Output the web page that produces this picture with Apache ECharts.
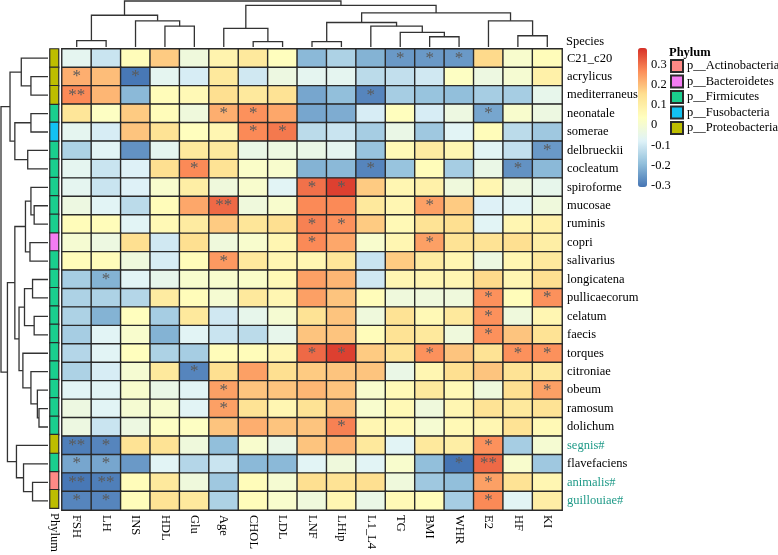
<!DOCTYPE html>
<html><head><meta charset="utf-8">
<script src="https://cdn.jsdelivr.net/npm/echarts@6/dist/echarts.min.js"></script>
<style>html,body{margin:0;padding:0;background:#fff}#c{width:778px;height:555px}</style>
</head><body><div id="c"></div>
<script>
// ---------------- DATA ----------------
const columns = ['FSH','LH','INS','HDL','Glu','Age','CHOL','LDL','LNF','LHip','L1_L4','TG','BMI','WHR','E2','HF','KI'];
const species = ['C21_c20','acrylicus','mediterraneus','neonatale','somerae','delbrueckii','cocleatum','spiroforme','mucosae','ruminis','copri','salivarius','longicatena','pullicaecorum','celatum','faecis','torques','citroniae','obeum','ramosum','dolichum','segnis#','flavefaciens','animalis#','guillouiae#'];
const phyla = ['p__Actinobacteria','p__Bacteroidetes','p__Firmicutes','p__Fusobacteria','p__Proteobacteria'];
const speciesPhylum = ['p__Proteobacteria','p__Proteobacteria','p__Proteobacteria','p__Firmicutes','p__Fusobacteria','p__Firmicutes','p__Firmicutes','p__Firmicutes','p__Firmicutes','p__Firmicutes','p__Bacteroidetes','p__Firmicutes','p__Firmicutes','p__Firmicutes','p__Firmicutes','p__Firmicutes','p__Firmicutes','p__Firmicutes','p__Firmicutes','p__Firmicutes','p__Firmicutes','p__Proteobacteria','p__Firmicutes','p__Actinobacteria','p__Proteobacteria'];
// correlation values, one row per species, columns in the order above
const corrValues = [
 [-0.06,-0.11,0.05,0.18,-0.02,0.08,0.12,0.04,-0.20,-0.15,-0.21,-0.25,-0.25,-0.25,0.16,0.01,0.05],
 [0.22,0.20,-0.30,-0.06,-0.09,0.12,-0.10,-0.03,-0.06,-0.06,-0.13,-0.12,-0.10,0.03,-0.03,0.00,0.09],
 [0.27,0.21,-0.20,0.05,0.06,0.15,0.12,0.14,-0.23,-0.19,-0.28,-0.16,-0.18,-0.19,-0.16,-0.16,-0.05],
 [0.13,0.03,0.18,0.05,-0.02,0.22,0.26,0.23,-0.23,-0.22,-0.09,0.04,-0.09,-0.03,-0.23,0.01,-0.03],
 [-0.06,-0.09,0.19,0.14,0.04,0.07,0.27,0.29,-0.13,-0.11,-0.16,-0.04,-0.17,-0.07,0.05,-0.13,-0.17],
 [-0.15,-0.07,-0.26,-0.06,0.12,0.12,-0.04,-0.03,-0.04,-0.06,-0.18,0.06,0.11,0.07,-0.07,-0.12,-0.25],
 [-0.06,-0.11,-0.08,0.15,0.27,0.14,0.02,0.01,-0.21,-0.20,-0.28,-0.18,0.05,-0.16,-0.04,-0.26,-0.20],
 [-0.06,-0.11,-0.08,0.01,0.10,-0.02,0.01,-0.07,0.30,0.36,0.18,0.07,0.09,-0.02,0.07,-0.03,-0.05],
 [-0.03,-0.07,-0.13,0.05,0.23,0.31,-0.02,0.01,0.27,0.27,0.12,0.07,0.24,0.18,-0.08,-0.07,-0.02],
 [0.05,0.05,-0.07,0.06,0.11,0.18,0.13,0.15,0.28,0.26,0.18,0.06,0.14,0.15,-0.07,0.07,0.09],
 [0.00,-0.03,0.15,-0.10,0.15,-0.02,0.01,0.07,0.27,0.23,0.01,0.07,0.24,0.14,0.14,0.15,0.10],
 [0.05,0.05,-0.02,-0.09,0.05,0.25,0.12,0.07,0.07,0.13,-0.11,0.18,0.11,0.07,-0.03,0.07,0.12],
 [-0.16,-0.21,-0.07,-0.05,0.01,0.01,0.02,0.06,0.24,0.21,-0.10,0.07,0.07,0.07,0.16,0.07,0.15],
 [-0.15,-0.15,-0.14,0.11,0.05,0.00,0.12,0.07,0.24,0.19,0.05,-0.02,-0.02,-0.02,0.26,0.05,0.26],
 [-0.15,-0.21,0.04,-0.16,0.12,-0.10,-0.05,0.00,0.14,0.19,-0.02,0.14,0.06,0.12,0.26,-0.02,0.07],
 [-0.16,-0.07,0.01,-0.21,-0.07,-0.11,-0.13,-0.05,0.19,0.19,0.05,0.14,0.12,-0.02,0.26,0.19,0.14],
 [-0.14,-0.07,0.04,-0.15,-0.16,0.05,0.05,0.07,0.31,0.36,0.18,0.14,0.26,0.19,0.14,0.26,0.26],
 [-0.15,-0.09,0.00,0.12,-0.28,0.15,0.24,0.15,0.18,0.19,0.19,-0.04,0.07,0.15,0.19,0.14,0.12],
 [-0.07,-0.07,0.01,-0.04,-0.07,0.24,0.19,0.19,0.21,0.19,0.01,0.06,0.12,0.06,-0.02,0.15,0.24],
 [-0.03,-0.07,0.00,0.01,-0.07,0.24,0.14,0.07,0.14,0.19,0.01,0.06,-0.02,0.07,0.14,0.12,0.14],
 [-0.03,-0.11,-0.03,0.03,0.03,0.19,0.22,0.19,0.19,0.28,0.07,0.06,0.00,0.06,0.07,0.14,0.06],
 [-0.29,-0.28,0.14,0.14,-0.02,-0.19,0.01,-0.04,0.19,0.21,0.12,-0.07,0.12,0.10,0.26,-0.16,0.00],
 [-0.23,-0.23,-0.25,-0.07,-0.14,-0.11,-0.20,-0.20,-0.07,-0.02,-0.07,0.01,-0.19,-0.31,0.31,0.01,-0.17],
 [-0.30,-0.29,0.05,0.12,-0.02,-0.17,0.05,0.00,0.15,0.14,0.15,-0.02,-0.17,-0.19,0.24,0.14,0.07],
 [-0.28,-0.28,0.05,0.14,0.12,-0.15,0.05,0.01,-0.02,0.07,-0.04,0.06,0.05,-0.16,0.27,-0.07,0.10]
];
// significance level: 0 none, 1 "*", 2 "**"
const sigLevels = [
 [0,0,0,0,0,0,0,0,0,0,0,1,1,1,0,0,0],
 [1,0,1,0,0,0,0,0,0,0,0,0,0,0,0,0,0],
 [2,0,0,0,0,0,0,0,0,0,1,0,0,0,0,0,0],
 [0,0,0,0,0,1,1,0,0,0,0,0,0,0,1,0,0],
 [0,0,0,0,0,0,1,1,0,0,0,0,0,0,0,0,0],
 [0,0,0,0,0,0,0,0,0,0,0,0,0,0,0,0,1],
 [0,0,0,0,1,0,0,0,0,0,1,0,0,0,0,1,0],
 [0,0,0,0,0,0,0,0,1,1,0,0,0,0,0,0,0],
 [0,0,0,0,0,2,0,0,0,0,0,0,1,0,0,0,0],
 [0,0,0,0,0,0,0,0,1,1,0,0,0,0,0,0,0],
 [0,0,0,0,0,0,0,0,1,0,0,0,1,0,0,0,0],
 [0,0,0,0,0,1,0,0,0,0,0,0,0,0,0,0,0],
 [0,1,0,0,0,0,0,0,0,0,0,0,0,0,0,0,0],
 [0,0,0,0,0,0,0,0,0,0,0,0,0,0,1,0,1],
 [0,0,0,0,0,0,0,0,0,0,0,0,0,0,1,0,0],
 [0,0,0,0,0,0,0,0,0,0,0,0,0,0,1,0,0],
 [0,0,0,0,0,0,0,0,1,1,0,0,1,0,0,1,1],
 [0,0,0,0,1,0,0,0,0,0,0,0,0,0,0,0,0],
 [0,0,0,0,0,1,0,0,0,0,0,0,0,0,0,0,1],
 [0,0,0,0,0,1,0,0,0,0,0,0,0,0,0,0,0],
 [0,0,0,0,0,0,0,0,0,1,0,0,0,0,0,0,0],
 [2,1,0,0,0,0,0,0,0,0,0,0,0,0,1,0,0],
 [1,1,0,0,0,0,0,0,0,0,0,0,0,1,2,0,0],
 [2,2,0,0,0,0,0,0,0,0,0,0,0,0,1,0,0],
 [1,1,0,0,0,0,0,0,0,0,0,0,0,0,1,0,0]
];
// column dendrogram merges: [childA, childB, height]; child = leaf name or earlier merge index
const colMerges = [
 ['FSH','LH',19],['HDL','Glu',63],['INS',1,79],[0,2,96],
 ['CHOL','LDL',16],['Age',4,56],['LNF','LHip',16],['BMI','WHR',31],
 ['TG',7,44],['L1_L4',8,63],[6,9,74],['HF','KI',34],['E2',11,79],
 [10,12,103],[5,13,126],[3,14,139]
];
// row dendrogram merges
const rowMerges = [
 ['acrylicus','mediterraneus',53],['C21_c20',0,83],
 ['neonatale','somerae',53],['delbrueckii','cocleatum',63],[2,3,103],[1,4,118],
 ['mucosae','ruminis',43],['spiroforme',6,53],['copri','salivarius',56],[7,8,70],
 ['longicatena','pullicaecorum',48],['celatum','faecis',43],[10,11,73],
 ['ramosum','dolichum',28],['obeum',13,33],['citroniae',14,53],['torques',15,78],
 [12,16,90],[9,17,103],
 ['animalis#','guillouiae#',48],['flavefaciens',19,76],['segnis#',20,98],
 [18,21,126],[5,22,146]
];
const colorTicks = [-0.3,-0.2,-0.1,0,0.1,0.2,0.3];

// ---------------- STYLE ----------------
const FONT = 'Liberation Serif';
const heatColors = ['#4575B4','#91BFDB','#E0F3F8','#FFFFBF','#FEE090','#FC8D59','#D73027'];
const phylumColor = {
 'p__Actinobacteria':'#FF8A86','p__Bacteroidetes':'#F47CF2','p__Firmicutes':'#1ACF8E',
 'p__Fusobacteria':'#12C2F2','p__Proteobacteria':'#BDBD00'};
const vMin = -0.305, vMax = 0.38;

function buildDendro(order, merges){
  const pos = [], hgt = [], segs = [];
  function get(c){ if (typeof c === 'string'){ return [order.indexOf(c)+0.5, 0]; } return [pos[c], hgt[c]]; }
  merges.forEach((m,i)=>{
    const a = get(m[0]), b = get(m[1]);
    pos[i] = (a[0]+b[0])/2; hgt[i] = m[2];
    segs.push([a[0],a[1],b[0],b[1],m[2]]);
  });
  return {segs, maxH: hgt[hgt.length-1]};
}
const colD = buildDendro(columns, colMerges);
const rowD = buildDendro(species, rowMerges);

const heatData = [];
corrValues.forEach((row,r)=>row.forEach((v,c)=>heatData.push([c,r,v])));

const chart = echarts.init(document.getElementById('c'));
const baseLabel = {fontFamily: FONT, fontSize: 12.5, color:'#000'};
const series = [{
  type:'heatmap', xAxisIndex:0, yAxisIndex:0, data: heatData,
  itemStyle:{borderColor:'#2a2a2a', borderWidth:1.4},
  emphasis:{disabled:true},
  label:{show:true, fontFamily:FONT, fontSize:17, color:'#5a5a5a',
    formatter: p => { const s = sigLevels[p.data[1]][p.data[0]]; return s===2?'**':(s===1?'*':''); }}
}];
phyla.forEach(ph=>{
  const d = [];
  speciesPhylum.forEach((p,r)=>{ if (p===ph) d.push([0,r,1]); });
  series.push({type:'heatmap', name: ph, xAxisIndex:1, yAxisIndex:1, data:d,
    itemStyle:{color: phylumColor[ph], borderColor:'#2a2a2a', borderWidth:1.2}, emphasis:{disabled:true}});
});
series.push({
  type:'custom', xAxisIndex:2, yAxisIndex:2, data: colD.segs, silent:true,
  renderItem:(params, api)=>{
    const xa=api.value(0), ha=api.value(1), xb=api.value(2), hb=api.value(3), h=api.value(4);
    return {type:'polyline', shape:{points:[api.coord([xa,ha]),api.coord([xa,h]),api.coord([xb,h]),api.coord([xb,hb])]},
      style:{stroke:'#333', lineWidth:1.3, fill:null}};
  }
});
series.push({
  type:'custom', xAxisIndex:3, yAxisIndex:3, data: rowD.segs, silent:true,
  renderItem:(params, api)=>{
    const ya=api.value(0), ha=api.value(1), yb=api.value(2), hb=api.value(3), h=api.value(4);
    return {type:'polyline', shape:{points:[api.coord([ha,ya]),api.coord([h,ya]),api.coord([h,yb]),api.coord([hb,yb])]},
      style:{stroke:'#333', lineWidth:1.3, fill:null}};
  }
});

const hidden = {show:false};
chart.setOption({
  animation:false,
  textStyle:{fontFamily:FONT},
  title:[
    {text:'Species', left:566, top:35, padding:0, textStyle:{fontFamily:FONT, fontSize:12.5, fontWeight:'normal', color:'#000'}},
    {text:'Phylum', left:669, top:46, padding:0, textStyle:{fontFamily:FONT, fontSize:12.5, fontWeight:'bold', color:'#000'}}
  ],
  grid:[
    {left:62, top:49, width:500, height:461},
    {left:50, top:49, width:8.5, height:461},
    {left:62, top:1, width:500, height:46},
    {left:1, top:49, width:47, height:461},
    {left:638, top:48, width:9, height:139}
  ],
  xAxis:[
    {type:'category', gridIndex:0, data:columns, axisLine:hidden, axisTick:hidden,
      axisLabel:Object.assign({rotate:-90, margin:5, interval:0}, baseLabel)},
    {type:'category', gridIndex:1, data:['Phylum'], axisLine:hidden, axisTick:hidden,
      axisLabel:Object.assign({rotate:-90, margin:5}, baseLabel)},
    {type:'value', gridIndex:2, min:0, max:columns.length, show:false},
    {type:'value', gridIndex:3, min:0, max:rowD.maxH, inverse:true, show:false},
    {type:'value', gridIndex:4, show:false}
  ],
  yAxis:[
    {type:'category', gridIndex:0, data:species, inverse:true, position:'right', axisLine:hidden, axisTick:hidden,
      axisLabel:Object.assign({}, baseLabel, {margin:5, interval:0, color:(v)=> v.endsWith('#') ? '#1f9a88' : '#000'})},
    {type:'category', gridIndex:1, data:species, inverse:true, show:false},
    {type:'value', gridIndex:2, min:0, max:colD.maxH, show:false},
    {type:'value', gridIndex:3, min:0, max:species.length, inverse:true, show:false},
    {type:'value', gridIndex:4, min:vMin, max:vMax, position:'right', axisLine:hidden, axisTick:hidden, splitLine:hidden,
      axisLabel:Object.assign({}, baseLabel, {margin:4, customValues: colorTicks, formatter: v => String(+(+v).toFixed(1))})}
  ],
  visualMap:{type:'continuous', seriesIndex:0, min:vMin, max:vMax, orient:'vertical', left:638, top:48,
    itemWidth:9, itemHeight:139, padding:0, calculable:false, inRange:{color:heatColors}, text:null},
  legend:{data:phyla, orient:'vertical', left:670, top:59, itemWidth:12, itemHeight:12, itemGap:1.5, icon:'rect',
    padding:0, selectedMode:false, textStyle:{fontFamily:FONT, fontSize:12.5, color:'#000', padding:[0,0,0,-1]}},
  series: series
});
</script></body></html>
